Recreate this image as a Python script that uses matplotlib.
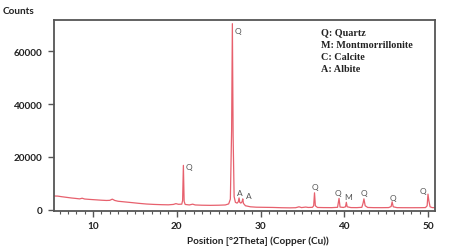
import matplotlib
matplotlib.use("Agg")
import matplotlib.pyplot as plt
from matplotlib.ticker import MultipleLocator

# XRD pattern (position in degrees 2theta, counts)
two_theta = [5.35, 5.8, 6.2, 6.8, 7.4, 8.0, 8.4, 8.7, 9.0, 9.6, 10.3, 11.0,
             11.6, 12.0, 12.3, 12.6, 13.0, 13.8, 14.6, 15.5, 16.4, 17.3, 18.2,
             19.0, 19.6, 19.9, 20.2, 20.6, 20.7, 20.79, 20.88, 21.0, 21.5,
             21.9, 22.2, 23.0, 24.0, 25.0, 25.8, 26.2, 26.4, 26.55, 26.64,
             26.73, 26.85, 27.0, 27.2, 27.35, 27.44, 27.52, 27.65, 27.8, 27.88,
             27.96, 28.2, 28.8, 29.5, 30.5, 31.5, 32.5, 33.5, 34.2, 34.6, 34.9,
             35.4, 35.7, 36.2, 36.35, 36.45, 36.55, 36.8, 37.5, 38.5, 39.2,
             39.38, 39.5, 39.9, 40.15, 40.25, 40.35, 40.8, 41.5, 42.1, 42.25,
             42.35, 42.5, 42.8, 43.5, 44.5, 45.3, 45.6, 45.72, 45.85, 46.3,
             47.0, 48.0, 49.0, 49.7, 49.9, 50.0, 50.1, 50.25, 50.5, 50.84]
counts = [5200, 5150, 4950, 4700, 4450, 4250, 4100, 4350, 4050, 3900, 3750, 3600,
          3500, 3550, 4000, 3500, 3200, 2950, 2700, 2400, 2150, 2000, 1900,
          1850, 2000, 2300, 2050, 2100, 3500, 16800, 3200, 2000, 1800,
          2100, 1800, 1700, 1650, 1700, 1800, 2200, 4000, 30000, 70500,
          28000, 5000, 2800, 2500, 3000, 4450, 2800, 2500, 3000, 4100,
          2400, 1500, 1100, 950, 900, 850, 750, 700, 750, 1100, 800,
          1000, 850, 900, 1500, 6400, 1500, 850, 800, 780, 900,
          4300, 1000, 850, 1100, 2800, 1100, 800, 780, 900, 2500,
          4100, 1500, 850, 780, 770, 800, 1200, 3000, 1100, 780,
          760, 750, 760, 800, 1500, 5900, 3500, 1100, 800, 780]

# phase labels: letter, position, height
peak_tags = ["Q", "Q", "A", "A", "Q", "Q", "M", "Q", "Q", "Q"]
tag_x = [21.5, 27.25, 27.5, 28.6, 36.45, 39.3, 40.5, 42.3, 45.8, 49.4]
tag_y = [16500, 67800, 6600, 5200, 8900, 6400, 4950, 6700, 4800, 7100]

legend_lines = ["Q: Quartz", "M: Montmorrillonite", "C: Calcite", "A: Albite"]

spine_col = "#555555"

fig = plt.figure(figsize=(4.5, 2.51), dpi=100)
ax = fig.add_axes([0.12, 0.1554, 0.8467, 0.761])

ax.plot(two_theta, counts, color="#e7606d", lw=0.9)

for t, x, y in zip(peak_tags, tag_x, tag_y):
    ax.text(x, y, t, fontsize=6, color="#555555", family="Lato",
            ha="center", va="center")

for i, s in enumerate(legend_lines):
    ax.text(0.70, 0.937 - i * 0.064, s, transform=ax.transAxes,
            fontsize=7.3, family="Liberation Serif", fontweight="bold",
            ha="left", va="center", color="#222222")

ax.set_xlim(5.34, 50.84)
ax.set_ylim(-490, 71900)
ax.set_xticks([10, 20, 30, 40, 50])
ax.xaxis.set_minor_locator(MultipleLocator(1))
ax.set_yticks([0, 20000, 40000, 60000])

for sp in ax.spines.values():
    sp.set_color(spine_col)
    sp.set_linewidth(1.3)

ax.tick_params(axis="both", which="major", direction="out", length=4,
               width=1, color=spine_col, labelsize=7.2)
ax.tick_params(axis="y", which="major", pad=4.5)
ax.tick_params(axis="x", which="major", pad=3)
ax.tick_params(axis="x", which="minor", direction="out", length=2,
               width=0.8, color=spine_col)
for lab in ax.get_xticklabels() + ax.get_yticklabels():
    lab.set_family("Lato")
    lab.set_fontweight("bold")
    lab.set_color("#222222")

fig.text(3 / 450, 1 - 12 / 251, "Counts", fontsize=7.2, family="Lato",
         fontweight="bold", ha="left", va="center", color="#222222")
fig.text(258 / 450, 1 - 241.7 / 251, "Position [°2Theta] (Copper (Cu))",
         fontsize=7.2, family="Lato", fontweight="bold", ha="center",
         va="center", color="#222222")

fig.savefig("out.png", dpi=100)
